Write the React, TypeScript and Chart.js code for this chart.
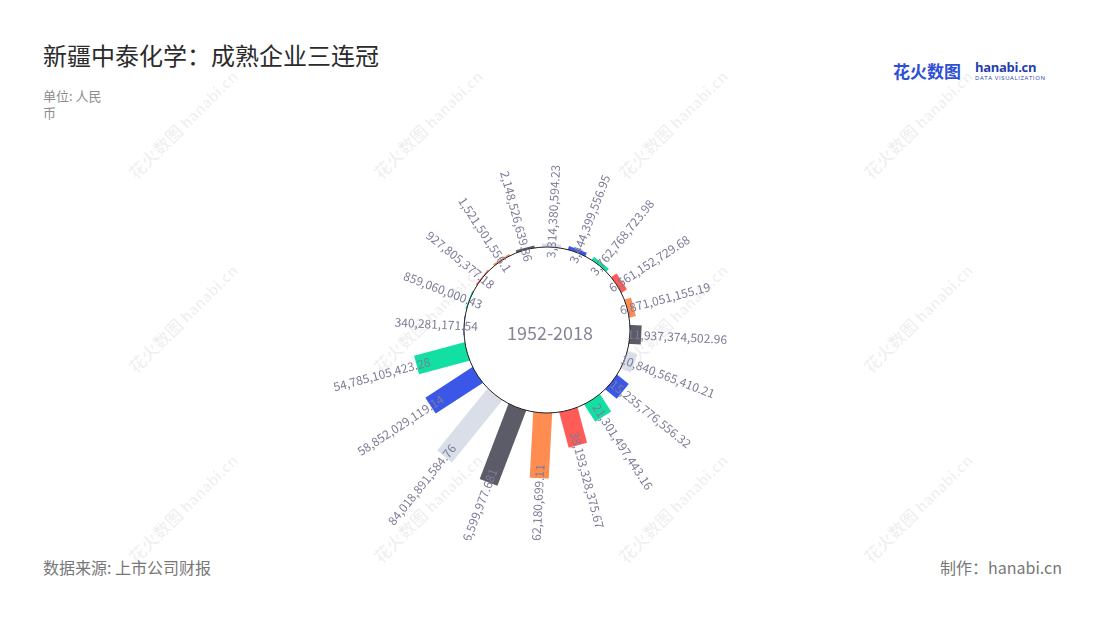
import React, { useEffect, useRef } from "react";
import { Chart, registerables } from "chart.js";

Chart.register(...registerables);

// ---- data ----
const categories = [
  "1999", "2000", "2001", "2002", "2003", "2004", "2005", "2006", "2007", "2008",
  "2009", "2010", "2011", "2012", "2013", "2014", "2015", "2016", "2017", "2018",
];
const revenue = [
  340281171.54, 859060000.43, 927805377.18, 1521501556.1, 2148526639.86,
  3314380594.23, 3444399556.95, 3762768723.98, 6561152729.68, 6871051155.19,
  11937374502.96, 10840565410.21, 15235776556.32, 21301497443.16, 38193328375.67,
  68762180699.11, 84326599977.681, 84018891584.76, 58852029119.14, 54785105423.28,
];
const barColors = ["#3b57e8", "#12e0a2", "#ff5b57", "#ff8d52", "#5b5c67", "#d9dee9"];
const periodLabel = "1952-2018";
const titleText = "新疆中泰化学：成熟企业三连冠";
const unitText = "单位: 人民币";
const sourceText = "数据来源: 上市公司财报";
const creditText = "制作：hanabi.cn";
const axisMin = -87.37e9;
const axisMax = 133.68e9;
const watermarkCols = [183, 428, 673, 918];
const watermarkRows = [124, 318, 508];

const FONT = '"Noto Sans CJK SC", "Noto Sans", sans-serif';
const BAR_WIDTH = 19;
const LABEL_INSET = 14;

const fmt = (v: number) => v.toLocaleString("en-US", { maximumFractionDigits: 3 });

const radialBarsPlugin = {
  id: "radialBars",
  afterDatasetsDraw(chart: any) {
    const meta = chart.getDatasetMeta(0);
    const scale = chart.scales.r;
    const cx = scale.xCenter;
    const cy = scale.yCenter;
    const r0 = scale.getDistanceFromCenterForValue(0);
    const ctx = chart.ctx;
    ctx.save();
    // bars
    meta.data.forEach((arc: any, i: number) => {
      const a = (arc.startAngle + arc.endAngle) / 2;
      ctx.save();
      ctx.translate(cx, cy);
      ctx.rotate(a);
      ctx.fillStyle = barColors[i % barColors.length];
      ctx.fillRect(r0 - 3, -BAR_WIDTH / 2, arc.outerRadius - r0 + 3, BAR_WIDTH);
      ctx.restore();
    });
    // inner circle
    ctx.beginPath();
    ctx.arc(cx, cy, r0, 0, Math.PI * 2);
    ctx.fillStyle = "#ffffff";
    ctx.fill();
    ctx.lineWidth = 1;
    ctx.strokeStyle = "#1f1f1f";
    ctx.stroke();
    // value labels
    ctx.font = `12px ${FONT}`;
    ctx.fillStyle = "#7c7c97";
    ctx.textBaseline = "middle";
    meta.data.forEach((arc: any, i: number) => {
      const a = (arc.startAngle + arc.endAngle) / 2;
      const r = arc.outerRadius - LABEL_INSET;
      ctx.save();
      ctx.translate(cx + r * Math.cos(a), cy + r * Math.sin(a));
      if (Math.cos(a) >= 0) {
        ctx.rotate(a);
        ctx.textAlign = "left";
      } else {
        ctx.rotate(a + Math.PI);
        ctx.textAlign = "right";
      }
      ctx.fillText(fmt(revenue[i]), 0, 0);
      ctx.restore();
    });
    // center text
    ctx.font = `18px ${FONT}`;
    ctx.fillStyle = "#85859a";
    ctx.textAlign = "center";
    ctx.textBaseline = "middle";
    ctx.fillText(periodLabel, cx + 3, cy + 3);
    ctx.restore();
  },
};

function RadialChart() {
  const ref = useRef<HTMLCanvasElement | null>(null);
  useEffect(() => {
    if (!ref.current) return;
    const chart = new Chart(ref.current, {
      type: "polarArea",
      data: {
        labels: categories,
        datasets: [
          {
            data: revenue,
            backgroundColor: "rgba(0,0,0,0)",
            borderWidth: 0,
          },
        ],
      },
      options: {
        animation: false,
        responsive: true,
        maintainAspectRatio: false,
        layout: { padding: 0 },
        plugins: {
          legend: { display: false },
          tooltip: { enabled: false },
        },
        scales: {
          r: {
            min: axisMin,
            max: axisMax,
            startAngle: 264,
            grid: { display: false },
            angleLines: { display: false },
            ticks: { display: false },
            pointLabels: { display: false },
          },
        },
      } as any,
      plugins: [radialBarsPlugin],
    });
    return () => chart.destroy();
  }, []);
  return (
    <div style={{ position: "absolute", left: 0, top: 120, width: 1094, height: 420 }}>
      <canvas ref={ref} />
    </div>
  );
}

export default function App() {
  const marks: React.ReactNode[] = [];
  watermarkRows.forEach((y, ri) =>
    watermarkCols.forEach((x, ci) => {
      marks.push(
        <div
          key={`${ri}-${ci}`}
          style={{
            position: "absolute",
            left: x - 80,
            top: y - 12,
            width: 160,
            textAlign: "center",
            transform: "rotate(-45deg)",
            color: "rgba(0,0,0,0.06)",
            fontWeight: 700,
            fontSize: 17,
            lineHeight: "24px",
            whiteSpace: "nowrap",
          }}
        >
          花火数图 <span style={{ fontSize: 15 }}>hanabi.cn</span>
        </div>
      );
    })
  );
  return (
    <div
      style={{
        position: "absolute",
        left: 0,
        top: 0,
        width: 1100,
        height: 620,
        background: "#ffffff",
        overflow: "hidden",
        fontFamily: FONT,
      }}
    >
      {marks}
      <div
        style={{
          position: "absolute",
          left: 43,
          top: 40,
          fontSize: 24,
          lineHeight: "30px",
          color: "#2b2b2b",
          whiteSpace: "nowrap",
        }}
      >
        {titleText}
      </div>
      <div
        style={{
          position: "absolute",
          left: 43,
          top: 87,
          width: 66,
          fontSize: 13,
          lineHeight: "17px",
          color: "#8c8c8c",
        }}
      >
        {unitText}
      </div>
      <div style={{ position: "absolute", left: 893, top: 59, whiteSpace: "nowrap" }}>
        <span style={{ fontSize: 17, fontWeight: 700, color: "#2e50d4", lineHeight: "22px" }}>花火数图</span>
      </div>
      <div style={{ position: "absolute", left: 975, top: 60, whiteSpace: "nowrap", width: 64 }}>
        <div style={{ fontSize: 13, fontWeight: 700, color: "#1f3fae", lineHeight: "15px", fontFamily: '"Open Sans", sans-serif', letterSpacing: -0.3 }}>
          hanabi.cn
        </div>
        <div style={{ fontSize: 6, color: "#1f3fae", lineHeight: "7px", letterSpacing: 0.6, fontFamily: '"Open Sans", sans-serif' }}>
          DATA VISUALIZATION
        </div>
      </div>
      <RadialChart />
      <div
        style={{
          position: "absolute",
          left: 43,
          top: 557,
          fontSize: 16,
          lineHeight: "20px",
          color: "#777777",
          whiteSpace: "nowrap",
        }}
      >
        {sourceText}
      </div>
      <div
        style={{
          position: "absolute",
          right: 38,
          top: 557,
          fontSize: 16,
          lineHeight: "20px",
          color: "#777777",
          whiteSpace: "nowrap",
        }}
      >
        {creditText}
      </div>
    </div>
  );
}
